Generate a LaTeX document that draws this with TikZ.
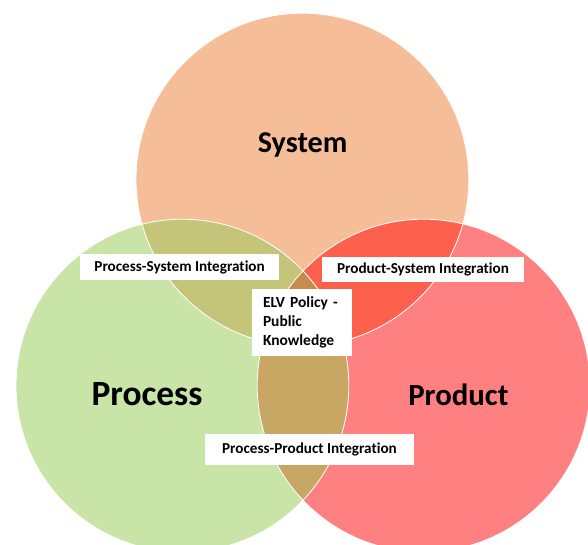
\documentclass[tikz,border=0pt]{standalone}
\usepackage{fontspec}
\setmainfont{Carlito}[Ligatures=NoCommon]
\usetikzlibrary{positioning}

\definecolor{systemfill}{HTML}{F5BE98}
\definecolor{processfill}{HTML}{C8E4A6}
\definecolor{productfill}{HTML}{FF8080}
\definecolor{sysprocfill}{HTML}{C5C57A}
\definecolor{sysprodfill}{HTML}{FE604E}
\definecolor{procprodfill}{HTML}{C8A664}
\definecolor{centrefill}{HTML}{C68C4E}

\newcommand{\setradius}{4.16}

\tikzset{
  labelbox/.style={fill=white, inner sep=0pt, font=\bfseries\fontsize{10.8}{13}\selectfont},
  setname/.style={anchor=base, text=black},
  rim/.style={draw=white, line width=0.6pt}
}

\begin{document}
\begin{tikzpicture}
\useasboundingbox (0,0) rectangle (14.7,13.6);

% Centres of the three sets
\coordinate (sys) at (7.56,9.11);
\coordinate (proc) at (4.56,3.96);
\coordinate (prod) at (10.59,3.96);

% Circles
\fill[systemfill] (sys) circle (\setradius);
\fill[processfill] (proc) circle (\setradius);
\fill[productfill] (prod) circle (\setradius);

% Overlaps with System
\begin{scope}
  \clip (sys) circle (\setradius);
  \fill[sysprocfill] (proc) circle (\setradius);
  \fill[sysprodfill] (prod) circle (\setradius);
\end{scope}

% Process-Product overlap and the middle
\begin{scope}
  \clip (proc) circle (\setradius);
  \fill[procprodfill] (prod) circle (\setradius);
  \clip (sys) circle (\setradius);
  \fill[centrefill] (prod) circle (\setradius);
\end{scope}

% Thin white rims
\foreach \c in {sys,proc,prod}
  \draw[rim] (\c) circle (\setradius);

% Set names
\node[setname, font=\bfseries\fontsize{21.5}{24}\selectfont] (systemname) at (7.565,9.78) {System};
\node[setname, font=\bfseries\fontsize{25.2}{28}\selectfont] (processname) at (3.675,3.45) {Process};
\node[setname, font=\bfseries\fontsize{21.9}{24}\selectfont] (productname) at (11.46,3.47) {Product};

% Integration labels
\node[labelbox, minimum width=4.975cm, minimum height=0.65cm] (procsys) at (4.49,6.925) {Process-System Integration};
\node[labelbox, minimum width=5.05cm, minimum height=0.625cm] (prodsys) at (10.575,6.86) {Product-System Integration};
\node[labelbox, minimum width=5.225cm, minimum height=0.775cm] (procprod) at (7.7375,2.36) {Process-Product Integration};

% Centre label
\node[labelbox, font=\bfseries\fontsize{11}{13.3}\selectfont, text width=1.95cm, align=left,
      inner xsep=0.275cm, minimum height=1.675cm] (elv) at (7.55,5.54) {ELV Policy -\\Public\\Knowledge};
\end{tikzpicture}
\end{document}
